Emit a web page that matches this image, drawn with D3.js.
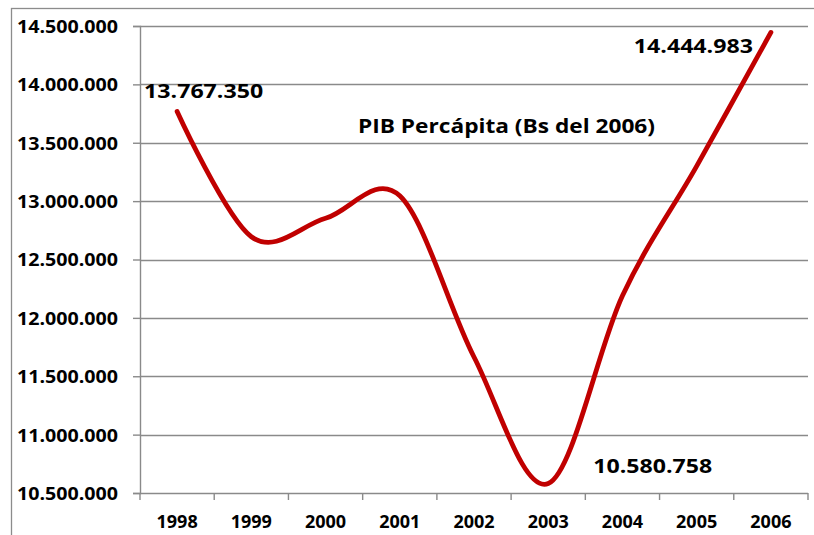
<!DOCTYPE html>
<html>
<head>
<meta charset="utf-8">
<script src="https://cdn.jsdelivr.net/npm/d3@7"></script>
<style>
html,body{margin:0;padding:0;background:#fff;}
svg{display:block;}
text{font-family:"Open Sans",Lato,sans-serif;font-weight:bold;fill:#000;}
</style>
</head>
<body>
<svg id="chart" width="814" height="535"></svg>
<script>
const years = ["1998","1999","2000","2001","2002","2003","2004","2005","2006"];
const pib = [13767350, 12695000, 12853000, 13045000, 11665000, 10580758, 12190000, 13300000, 14444983];
const yTicks = [10500000, 11000000, 11500000, 12000000, 12500000, 13000000, 13500000, 14000000, 14500000];
const chartTitle = "PIB Percápita (Bs del 2006)";
const labeledIdx = [0, 5, 8];

const svg = d3.select("#chart");
const W = 814, H = 535;
const m = {left: 140, right: 808, top: 26, bottom: 493};

const fmt = d3.formatLocale({decimal: ",", thousands: ".", grouping: [3], currency: ["", ""]}).format(",");

const x = d3.scaleBand().domain(years).range([m.left, m.right]);
const y = d3.scaleLinear().domain([10500000, 14500000]).range([m.bottom, m.top]);

// outer frame
svg.append("rect").attr("x", 11.5).attr("y", 8.5).attr("width", W + 10).attr("height", H + 10)
  .attr("fill", "none").attr("stroke", "#8c8c8c").attr("stroke-width", 1.3);

// gridlines
svg.append("g").selectAll("line").data(yTicks.slice(1)).join("line")
  .attr("x1", m.left).attr("x2", m.right)
  .attr("y1", d => Math.round(y(d)) + 0.5).attr("y2", d => Math.round(y(d)) + 0.5)
  .attr("stroke", "#8a8a8a").attr("stroke-width", 1.4);

// y axis
const yAxis = d3.axisLeft(y).tickValues(yTicks).tickFormat(fmt).tickSize(7).tickPadding(15);
const gy = svg.append("g").attr("transform", `translate(${m.left},0)`).call(yAxis);
gy.select(".domain").attr("stroke", "#8a8a8a").attr("stroke-width", 1.4);
gy.selectAll(".tick line").attr("stroke", "#8a8a8a").attr("stroke-width", 1.4);
gy.selectAll(".tick text").attr("font-size", 18).attr("font-family", "'Open Sans', sans-serif")
  .attr("font-weight", "bold").attr("fill", "#000").attr("dy", "0.36em")
  .attr("textLength", 101).attr("lengthAdjust", "spacingAndGlyphs");

// x axis (ticks at category boundaries)
const gx = svg.append("g").attr("transform", `translate(0,${m.bottom})`);
gx.append("line").attr("x1", m.left).attr("x2", m.right).attr("y1", 0.5).attr("y2", 0.5)
  .attr("stroke", "#8a8a8a").attr("stroke-width", 1.4);
const bounds = years.map(d => x(d)).concat([x(years[years.length - 1]) + x.bandwidth()]);
gx.selectAll("line.tk").data(bounds).join("line").attr("class", "tk")
  .attr("x1", d => d).attr("x2", d => d).attr("y1", 0).attr("y2", 7)
  .attr("stroke", "#8a8a8a").attr("stroke-width", 1.4);
gx.selectAll("text").data(years).join("text")
  .attr("x", d => x(d) + x.bandwidth() / 2).attr("y", 35)
  .attr("text-anchor", "middle").attr("font-size", 18)
  .text(d => d);

// line
const line = d3.line()
  .x((d, i) => x(years[i]) + x.bandwidth() / 2)
  .y(d => y(d))
  .curve(d3.curveCardinal.tension(0));
svg.append("path").datum(pib).attr("d", line)
  .attr("fill", "none").attr("stroke", "#c00000").attr("stroke-width", 4.8)
  .attr("stroke-linecap", "round").attr("stroke-linejoin", "round");

// data labels
const lblPos = {0: {dx: -33, dy: -14}, 5: {dx: 45, dy: -11}, 8: {dx: -137, dy: 21}};
svg.append("g").selectAll("text").data(labeledIdx).join("text")
  .attr("x", i => x(years[i]) + x.bandwidth() / 2 + lblPos[i].dx)
  .attr("y", i => y(pib[i]) + lblPos[i].dy)
  .attr("font-size", 20)
  .attr("textLength", 119).attr("lengthAdjust", "spacingAndGlyphs")
  .text(i => fmt(pib[i]));

// title
svg.append("text").attr("x", 358).attr("y", 133).attr("font-size", 20)
  .attr("textLength", 297).attr("lengthAdjust", "spacingAndGlyphs")
  .text(chartTitle);
</script>
</body>
</html>
